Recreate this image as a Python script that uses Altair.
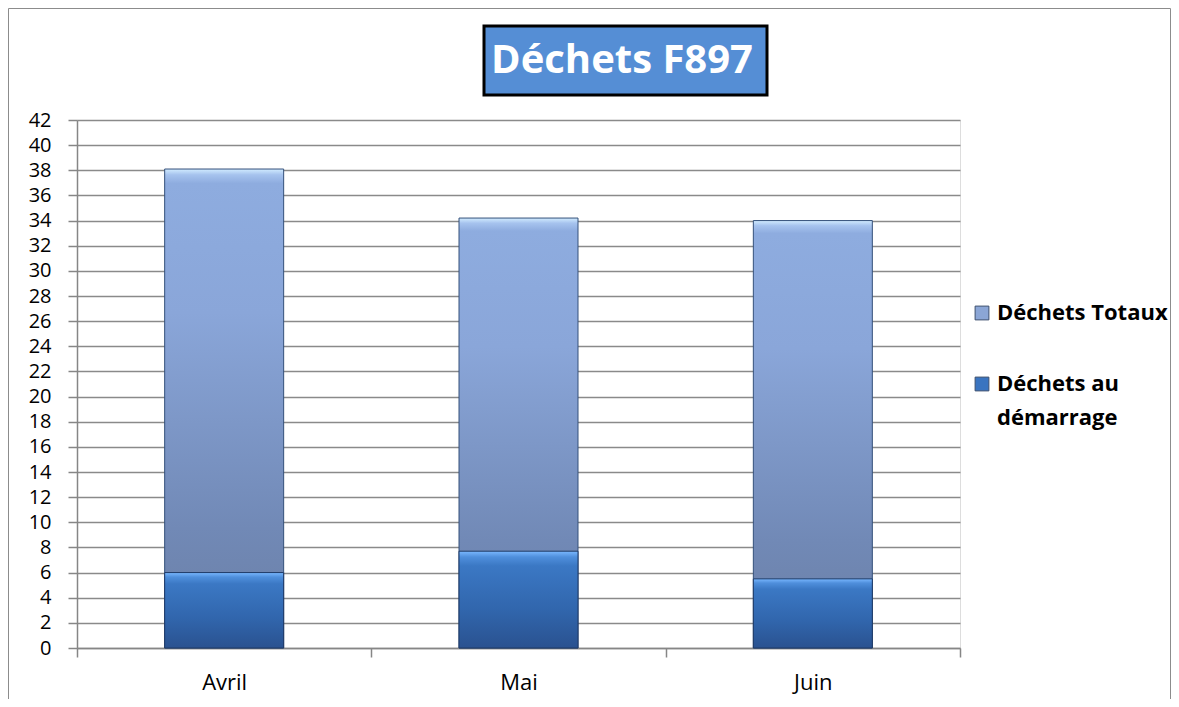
import altair as alt
import pandas as pd

months = ["Avril", "Mai", "Juin"]
totaux = [38.1, 34.2, 34.0]
demarrage = [6.0, 7.7, 5.5]
series_names = ["Déchets Totaux", "Déchets au démarrage"]
y_ticks = list(range(0, 44, 2))
title_text = "Déchets F897"

FONT = "Open Sans"

df_tot = pd.DataFrame({"month": months, "value": totaux, "series": series_names[0]})
df_dem = pd.DataFrame({"month": months, "value": demarrage, "series": series_names[1]})
df_all = pd.concat([df_tot, df_dem])

x_enc = alt.X(
    "month:N",
    sort=months,
    scale=alt.Scale(paddingInner=0, paddingOuter=0),
    axis=alt.Axis(
        title=None, labelFontSize=22, labelColor="black", labelFont=FONT,
        labelPadding=15, tickSize=9, tickColor="#868686", tickWidth=1.5,
        domainColor="#868686", domainWidth=1.5, tickBand="extent", grid=False,
        labelAngle=0,
    ),
)
y_enc = alt.Y(
    "value:Q",
    scale=alt.Scale(domain=[0, 42], nice=False),
    axis=alt.Axis(
        title=None, values=y_ticks, labelFontSize=20, labelColor="black",
        labelFont=FONT, labelPadding=17, tickSize=9, tickColor="#868686",
        tickWidth=1.5, domainColor="#868686", domainWidth=1.5,
        gridColor="#8a8a8a", gridWidth=1.5,
    ),
)

grad_tot = alt.Gradient(
    gradient="linear", x1=0, x2=0, y1=0, y2=1,
    stops=[
        alt.GradientStop(color="#d2ecff", offset=0),
        alt.GradientStop(color="#a6c3ee", offset=0.012),
        alt.GradientStop(color="#8eacdf", offset=0.03),
        alt.GradientStop(color="#8aa6d9", offset=0.3),
        alt.GradientStop(color="#7189b6", offset=0.75),
        alt.GradientStop(color="#6a7ea4", offset=1),
    ],
)
grad_dem = alt.Gradient(
    gradient="linear", x1=0, x2=0, y1=0, y2=1,
    stops=[
        alt.GradientStop(color="#7ab8ff", offset=0),
        alt.GradientStop(color="#4f8fdc", offset=0.06),
        alt.GradientStop(color="#3b78c4", offset=0.15),
        alt.GradientStop(color="#3166ad", offset=0.6),
        alt.GradientStop(color="#2a5290", offset=1),
    ],
)

bars_tot = alt.Chart(df_tot).mark_bar(
    size=119, fill=grad_tot, stroke="#34507a", strokeWidth=1
).encode(x=x_enc, y=y_enc)

bars_dem = alt.Chart(df_dem).mark_bar(
    size=119, fill=grad_dem, stroke="#1f3a66", strokeWidth=1
).encode(x=x_enc, y=y_enc)

legend_layer = alt.Chart(df_all).mark_bar(opacity=0, size=1).encode(
    x=x_enc,
    y=y_enc,
    color=alt.Color(
        "series:N",
        scale=alt.Scale(domain=series_names, range=["#8ba6d6", "#3a74c0"]),
        legend=alt.Legend(
            title=None, orient="none", legendX=894, legendY=182,
            symbolType="square", symbolSize=190, symbolOpacity=1,
            symbolStrokeColor="#3d4f6e", symbolStrokeWidth=1,
            labelFontSize=22, labelFontWeight="bold", labelFont=FONT,
            labelColor="black", labelLimit=300, rowPadding=49, labelOffset=4,
            labelExpr="datum.label == 'Déchets au démarrage' ? ['Déchets au', 'démarrage'] : datum.label",
        ),
    ),
)

df_title = pd.DataFrame({"t": [title_text]})
title_box = alt.Chart(df_title).mark_rect(
    fill="#558ed5", stroke="black", strokeWidth=3
).encode(x=alt.value(407), x2=alt.value(690), y=alt.value(-94), y2=alt.value(-25))
title_txt = alt.Chart(df_title).mark_text(
    font=FONT, fontSize=40, fontWeight="bold", color="white",
    align="center", baseline="middle",
).encode(x=alt.value(545), y=alt.value(-59), text="t:N")

border = alt.Chart(df_title).mark_rect(
    fill="transparent", stroke="#8c8c8c", strokeWidth=1
).encode(x=alt.value(-68.5), x2=alt.value(1093.5), y=alt.value(-111.5), y2=alt.value(700))

chart = alt.layer(
    border, bars_tot, bars_dem, legend_layer, title_box, title_txt
).properties(
    width=883, height=528,
    autosize=alt.AutoSizeParams(type="none"),
    padding={"left": 69, "top": 112, "right": 211, "bottom": 51},
    background="white",
).configure_view(
    fill="#d9d9d9", stroke=None
).configure(
    style={"guide-label": {"lineHeight": 34}}
)

chart.save("out.html", embed_options={"renderer": "svg", "actions": False})
